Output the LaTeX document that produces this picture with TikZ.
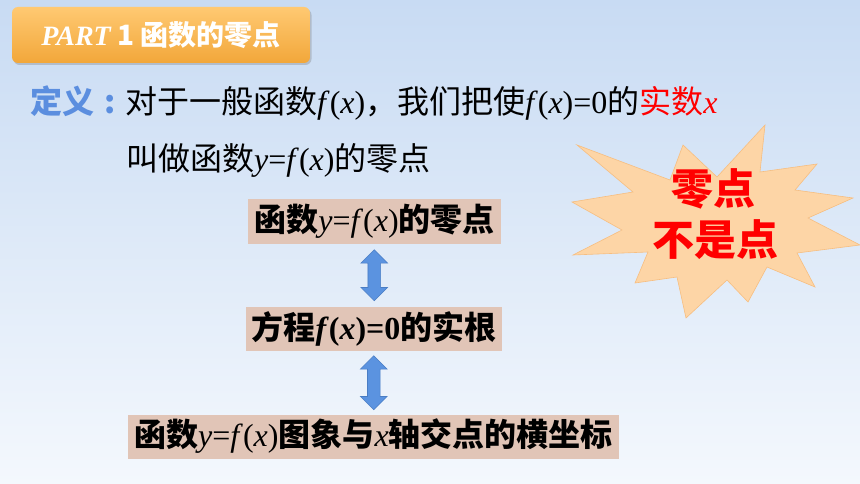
\documentclass[tikz,border=0pt]{standalone}
\usepackage{fontspec}
\setmainfont{Noto Sans CJK SC}
\newfontfamily\lat{Liberation Serif}
\usetikzlibrary{shapes.arrows,calc,positioning,shadows}
\definecolor{bgtop}{HTML}{C8DBF3}
\definecolor{bgbot}{HTML}{F4F8FD}
\definecolor{ttltop}{HTML}{FFC972}
\definecolor{ttlbot}{HTML}{F2A73A}
\definecolor{defblue}{HTML}{5B8EDF}
\definecolor{boxtan}{HTML}{E1C5B7}
\definecolor{arrowblue}{HTML}{5B93E0}
\definecolor{arrowedge}{HTML}{4A7DC4}
\definecolor{burstfill}{HTML}{FDD5A6}
\definecolor{burstedge}{HTML}{F7BE80}
\definecolor{hot}{HTML}{FF0000}
\newcommand\fx{{\lat\textit{f}(\textit{x})}}
\newcommand\vy{{\lat\textit{y}}}
\newcommand\vx{{\lat\textit{x}}}

\begin{document}
\begin{tikzpicture}[x=1pt,y=-1pt,
  keybox/.style={fill=boxtan,inner xsep=6pt,inner ysep=0pt,minimum height=44pt,
    font=\fontsize{32}{34}\selectfont\bfseries},
  dblarrow/.style={double arrow,rotate=90,fill=arrowblue,draw=arrowedge,line width=0.6pt,
    minimum width=26pt,double arrow head extend=7pt,inner xsep=0pt,inner ysep=6pt},
  titlebox/.style={rounded corners=6pt,top color=ttltop,bottom color=ttlbot,
    minimum width=298pt,minimum height=56pt,text=white,
    drop shadow={opacity=0.35,shadow xshift=1.5pt,shadow yshift=-2pt},
    font=\fontsize{28}{30}\selectfont\bfseries}]
  % background
  \shade[top color=bgtop,bottom color=bgbot] (0,0) rectangle (860,484);
  \useasboundingbox (0,0) rectangle (860,484);
  % title
  \node[titlebox] (ttl) at (161,35) {{\lat\itshape\bfseries PART} 1 函数的零点};
  % definition
  \node[anchor=west,inner sep=0pt,font=\fontsize{32}{36}\selectfont] (def1) at (30,103)
    {\textcolor{defblue}{\bfseries 定义\makebox[31pt]{:}}对于一般函数\fx，我们把使\fx{\lat =0}的\textcolor{hot}{实数\vx}};
  \node[anchor=west,inner sep=0pt,font=\fontsize{32}{36}\selectfont] (def2) at (126,160)
    {叫做函数\vy{\lat =}\fx 的零点};
  % burst
  \draw[fill=burstfill,draw=burstedge,line width=0.6pt]
    (765,125) -- (760,172) -- (817,164) -- (795,190) -- (853,198) -- (808,218)
    -- (860,245) -- (797,253) -- (815,287) -- (767,267) -- (748,302) -- (727,280)
    -- (686,318) -- (677,277) -- (635,283) -- (648,252) -- (573,255) -- (622,230)
    -- (572,202) -- (633,192) -- (577,145) -- (670,180) -- (683,145) -- (717,177) -- cycle;
  \node[text=hot,font=\fontsize{42}{44}\selectfont\bfseries] (bst1) at (713,189) {零点};
  \node[text=hot,font=\fontsize{42}{44}\selectfont\bfseries] (bst2) at (715,240) {不是点};
  % chain of equivalences
  \node[keybox] (k1) at (374.5,221.5) {函数{\mdseries\vy{\lat =}\fx}的零点};
  \node[keybox] (k2) at (374,329) {方程\fx{\lat =0}的实根};
  \node[keybox] (k3) at (373.5,436.5) {函数{\mdseries\vy{\lat =}\fx}图象与{\mdseries\vx}轴交点的横坐标};
  \node[dblarrow,minimum height=51pt] (a1) at ($(k1.south)!0.5!(k2.north)$) {};
  \node[dblarrow,minimum height=54pt] (a2) at ($(k2.south)!0.5!(k3.north)$) {};
\end{tikzpicture}
\end{document}
